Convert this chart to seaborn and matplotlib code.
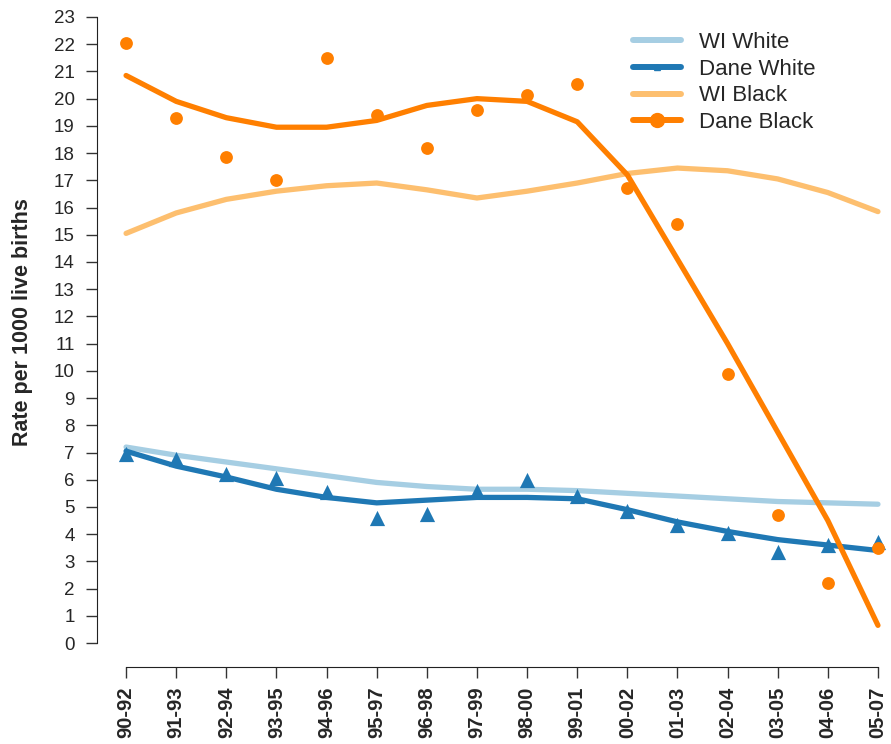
import matplotlib.pyplot as plt
import pandas as pd
import seaborn as sns
from matplotlib.lines import Line2D

periods = ['90-92', '91-93', '92-94', '93-95', '94-96', '95-97', '96-98', '97-99',
           '98-00', '99-01', '00-02', '01-03', '02-04', '03-05', '04-06', '05-07']

wi_white = [7.2, 6.9, 6.65, 6.4, 6.15, 5.9, 5.75, 5.65, 5.65, 5.6, 5.5, 5.4, 5.3, 5.2, 5.15, 5.1]
dane_white = [7.05, 6.5, 6.1, 5.65, 5.35, 5.15, 5.25, 5.35, 5.35, 5.3, 4.9, 4.45, 4.1, 3.8, 3.6, 3.4]
wi_black = [15.05, 15.8, 16.3, 16.6, 16.8, 16.9, 16.65, 16.35, 16.6, 16.9, 17.25, 17.45, 17.35, 17.05, 16.55, 15.85]
dane_black = [20.85, 19.9, 19.3, 18.95, 18.95, 19.2, 19.75, 20.0, 19.9, 19.15, 17.2, 14.1, 11.0, 7.75, 4.5, 0.65]

dane_white_obs = [6.95, 6.75, 6.2, 6.05, 5.55, 4.6, 4.75, 5.6, 6.0, 5.4, 4.85, 4.35, 4.05, 3.35, 3.6, 3.7]
dane_black_obs = [22.05, 19.3, 17.85, 17.0, 21.5, 19.4, 18.2, 19.6, 20.15, 20.55, 16.7, 15.4, 9.9, 4.7, 2.2, 3.5]

series = ['WI White', 'Dane White', 'WI Black', 'Dane Black']
colors = {'WI White': '#a6cee3', 'Dane White': '#1f78b4',
          'WI Black': '#fdbf6f', 'Dane Black': '#ff7f00'}

pos = list(range(len(periods)))
lines = pd.DataFrame({
    'pos': pos * 4,
    'rate': wi_white + dane_white + wi_black + dane_black,
    'series': sum([[s] * len(periods) for s in series], []),
})
obs = pd.DataFrame({
    'pos': pos * 2,
    'rate': dane_white_obs + dane_black_obs,
    'series': ['Dane White'] * len(periods) + ['Dane Black'] * len(periods),
})

sns.set_style('ticks')
plt.rcParams['font.family'] = ['Liberation Sans', 'DejaVu Sans']

fig = plt.figure(figsize=(8.91, 7.44), dpi=100)
ax = fig.add_axes([97 / 891, 1 - 667 / 744, 794 / 891, 662 / 744])

sns.lineplot(data=lines, x='pos', y='rate', hue='series', hue_order=series,
             palette=colors, linewidth=3.8, legend=False, ax=ax, zorder=2)
sns.scatterplot(data=obs[obs['series'] == 'Dane White'], x='pos', y='rate',
                color=colors['Dane White'], marker='^', s=120, linewidth=0,
                legend=False, ax=ax, zorder=3)
sns.scatterplot(data=obs[obs['series'] == 'Dane Black'], x='pos', y='rate',
                color=colors['Dane Black'], marker='o', s=85, linewidth=0,
                legend=False, ax=ax, zorder=3)

ax.set_xlim(-0.58, 15.26)
ax.set_ylim(-0.88, 23.44)
ax.set_xticks(pos)
ax.set_xticklabels(periods, rotation=90, fontsize=14.5, fontweight='bold')
ax.set_yticks(range(0, 24))
ax.tick_params(axis='y', labelsize=13.5, length=8, width=1, color='#333333', pad=8)
ax.tick_params(axis='x', length=8, width=1, color='#333333', pad=6)
ax.set_xlabel('')
ax.set_ylabel('Rate per 1000 live births', fontsize=15.5, fontweight='bold')
ax.yaxis.set_label_coords(-0.081, 0.521)

sns.despine(ax=ax)
ax.spines['left'].set_bounds(0, 23)
ax.spines['bottom'].set_bounds(0, 15)
for side in ['left', 'bottom']:
    ax.spines[side].set_color('#222222')

handles = [
    Line2D([], [], color=colors['WI White'], lw=4.3, solid_capstyle='round'),
    Line2D([], [], color=colors['Dane White'], lw=4.3, marker='^', markersize=5,
           solid_capstyle='round'),
    Line2D([], [], color=colors['WI Black'], lw=4.3, solid_capstyle='round'),
    Line2D([], [], color=colors['Dane Black'], lw=4.3, marker='o', markersize=10,
           solid_capstyle='round'),
]
ax.legend(handles, series, loc='upper left', bbox_to_anchor=(0.664, 0.973),
          frameon=False, fontsize=16, handlelength=2.15, handletextpad=0.8,
          labelspacing=0.26, borderaxespad=0)

fig.savefig('out.png', dpi=100)
